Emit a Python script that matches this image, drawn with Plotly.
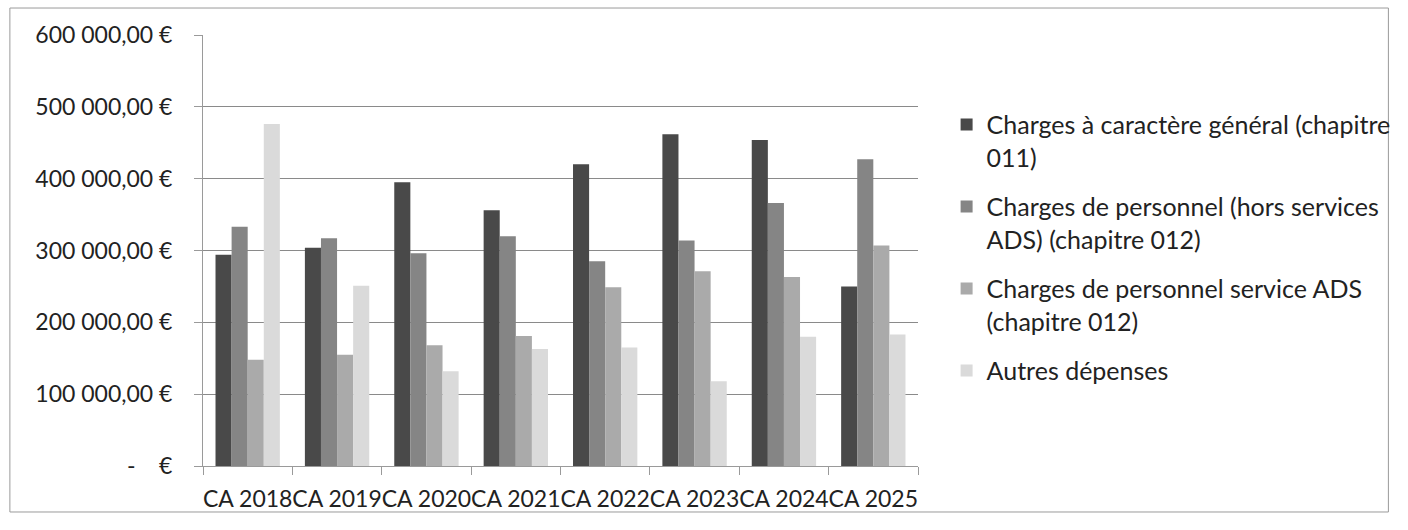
import plotly.graph_objects as go

categories = ["CA 2018", "CA 2019", "CA 2020", "CA 2021", "CA 2022", "CA 2023", "CA 2024", "CA 2025"]

series_names = [
    "Charges à caractère général (chapitre<br>011)",
    "Charges de personnel (hors services<br>ADS) (chapitre 012)",
    "Charges de personnel service ADS<br>(chapitre 012)",
    "Autres dépenses",
]

charges_generales = [294000, 304000, 395000, 356000, 420000, 462000, 454000, 250000]
charges_personnel_hors_ads = [333000, 317000, 296000, 320000, 285000, 314000, 366000, 427000]
charges_personnel_ads = [148000, 155000, 168000, 181000, 249000, 271000, 263000, 307000]
autres_depenses = [476000, 251000, 132000, 163000, 165000, 118000, 180000, 183000]

tick_values = [0, 100000, 200000, 300000, 400000, 500000, 600000]
tick_labels = ["-\u00a0\u00a0\u00a0\u00a0€", "100 000,00 €", "200 000,00 €", "300 000,00 €",
               "400 000,00 €", "500 000,00 €", "600 000,00 €"]

colors = ["#494949", "#858585", "#aaaaaa", "#dadada"]
values = [charges_generales, charges_personnel_hors_ads, charges_personnel_ads, autres_depenses]

FONT = "Lato"

fig = go.Figure()
for i, (name, vals, col) in enumerate(zip(series_names, values, colors)):
    fig.add_trace(go.Bar(x=categories, y=vals, name=name, legendgroup=f"g{i}",
                         marker=dict(color=col, line=dict(width=0))))

fig.update_layout(
    width=1408, height=530,
    margin=dict(l=203, r=483, t=35, b=64),
    paper_bgcolor="white", plot_bgcolor="white",
    barmode="group", bargap=0.28, bargroupgap=0,
    font=dict(family=FONT, size=23, color="#222222"),
    showlegend=True,
    legend=dict(x=1.040, y=0.845, xanchor="left", yanchor="top",
                font=dict(family=FONT, size=25, color="#222222"),
                valign="top", traceorder="grouped", tracegroupgap=14, itemwidth=30,
                bgcolor="rgba(0,0,0,0)"),
    shapes=[dict(type="rect", xref="paper", yref="paper",
                 x0=-0.2701, x1=1.6579, y0=-0.1067, y1=1.0626,
                 line=dict(color="#9a9a9a", width=1), layer="below")],
)

fig.update_xaxes(
    type="category", showgrid=False, showline=True, linecolor="#9a9a9a", linewidth=1,
    ticks="outside", tickson="boundaries", ticklen=8, tickcolor="#9a9a9a",
    tickangle=0, ticklabelstandoff=12,
    tickfont=dict(family=FONT, size=23, color="#222222"),
)
fig.update_yaxes(
    range=[0, 600000], tickvals=tick_values, ticktext=tick_labels,
    showgrid=True, gridcolor="#8a8a8a", gridwidth=1,
    showline=True, linecolor="#9a9a9a", linewidth=1,
    ticks="outside", ticklen=8, tickcolor="#9a9a9a",
    ticklabelstandoff=17, zeroline=False,
    tickfont=dict(family=FONT, size=23, color="#222222"),
)

fig.write_html(
    "out.html",
    config={"displayModeBar": False},
    post_script="document.documentElement.style.margin='0';document.body.style.margin='0';"
                "document.body.style.overflow='hidden';",
)
